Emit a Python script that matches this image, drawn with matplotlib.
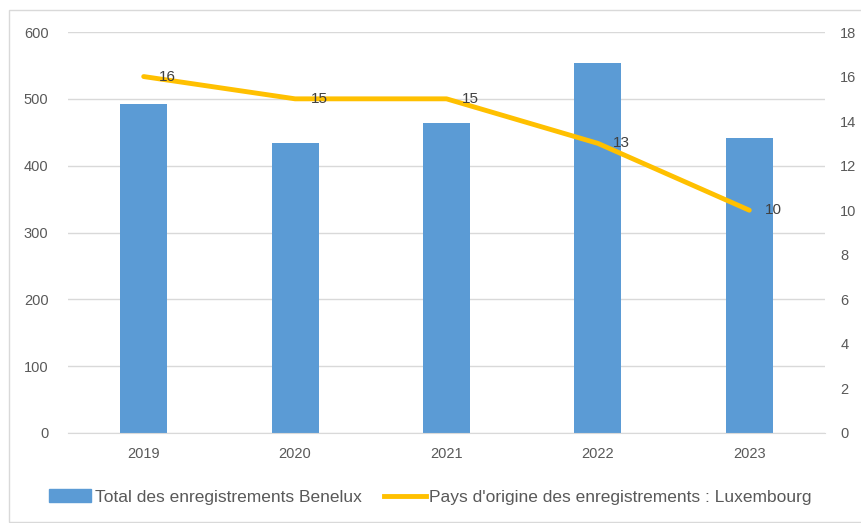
import matplotlib.pyplot as plt
from matplotlib.patches import Rectangle
from matplotlib.lines import Line2D
from matplotlib import font_manager

years = ['2019', '2020', '2021', '2022', '2023']
total_benelux = [492, 434, 464, 553, 441]
luxembourg = [16, 15, 15, 13, 10]

bar_color = '#5B9BD5'
line_color = '#FFC000'
text_color = '#595959'
grid_color = '#D9D9D9'

available = {f.name for f in font_manager.fontManager.ttflist}
family = [f for f in ['Liberation Sans Narrow', 'Liberation Sans', 'DejaVu Sans'] if f in available]
plt.rcParams['font.family'] = family

fig = plt.figure(figsize=(8.61, 5.23), dpi=100)
ax = fig.add_axes([68 / 861, 1 - 433 / 523, 757 / 861, 401 / 523])
ax2 = ax.twinx()

x = list(range(len(years)))
ax.bar(x, total_benelux, width=0.31, color=bar_color, zorder=2)
ax.set_ylim(0, 600)
ax.set_yticks(range(0, 601, 100))
ax.set_xlim(-0.5, len(years) - 0.5)
ax.set_xticks(x)
ax.set_xticklabels(years)
ax.grid(axis='y', color=grid_color, linewidth=1, zorder=0)
ax.set_axisbelow(True)

ax2.plot(x, luxembourg, color=line_color, linewidth=3.5, solid_capstyle='round', zorder=3)
ax2.set_ylim(0, 18)
ax2.set_yticks(range(0, 19, 2))
for xi, v in zip(x, luxembourg):
    ax2.annotate(str(v), (xi, v), xytext=(11, 0), textcoords='offset points',
                 va='center', ha='left', fontsize=11, color='#404040')

for a in (ax, ax2):
    for s in a.spines.values():
        s.set_visible(False)
    a.tick_params(length=0, labelsize=10.5, colors=text_color)
ax.spines['bottom'].set_visible(True)
ax.spines['bottom'].set_color(grid_color)
ax.tick_params(axis='y', pad=14)
ax.tick_params(axis='x', pad=10)
ax2.tick_params(axis='y', pad=11)

# chart border
fig.patches.append(Rectangle((9 / 861, 0.002), 860 / 861, 1 - 10 / 523 - 0.002,
                             transform=fig.transFigure, fill=False,
                             edgecolor='#D9D9D9', linewidth=1))

handles = [Rectangle((0, 0), 1, 1, color=bar_color),
           Line2D([0], [0], color=line_color, linewidth=3.5)]
labels = ['Total des enregistrements Benelux',
          "Pays d'origine des enregistrements : Luxembourg"]
fig.legend(handles, labels, loc='center', bbox_to_anchor=(0.5, 1 - 497 / 523),
           ncol=2, frameon=False, fontsize=12.5, labelcolor=text_color,
           handlelength=2.4, handletextpad=0.2, columnspacing=1.3)

plt.savefig('out.png', dpi=100)
